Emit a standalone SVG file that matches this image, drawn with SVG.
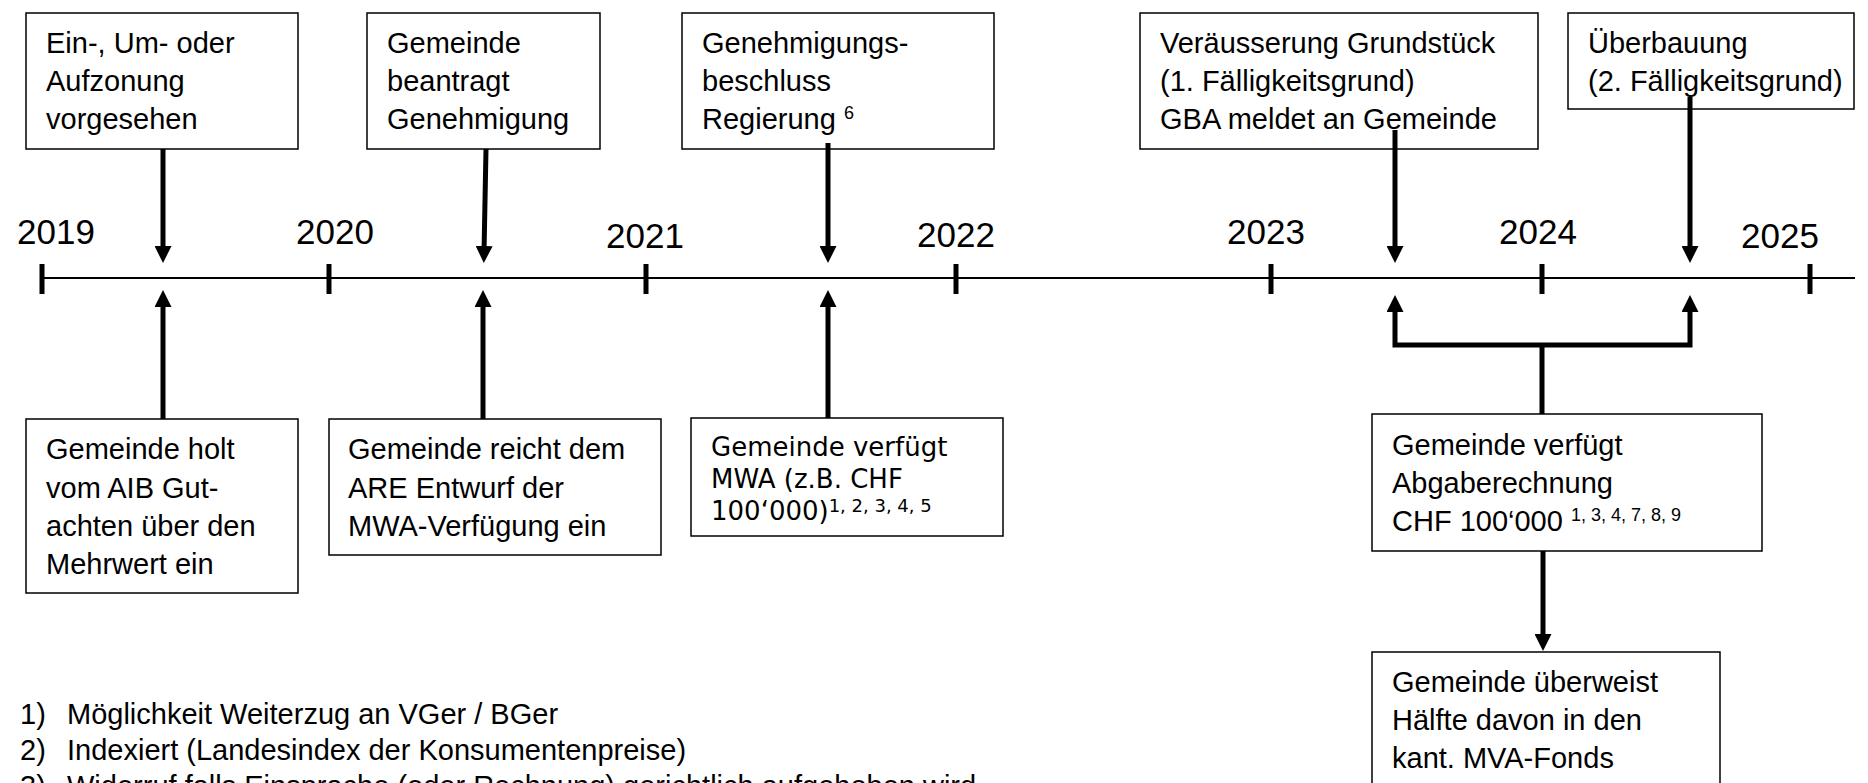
<svg xmlns="http://www.w3.org/2000/svg" width="1868" height="783" viewBox="0 0 1868 783">
<defs>
<style>
.box{fill:#fff;stroke:#000;stroke-width:1.5}
.t{font-family:"Liberation Sans",Arial,sans-serif;font-size:29px;fill:#000}
.v{font-family:"DejaVu Sans",Verdana,sans-serif;font-size:26px;fill:#000}
.yr{font-family:"Liberation Sans",Arial,sans-serif;font-size:35px;fill:#000;text-anchor:middle}
.sup{font-size:18px}
.arrow{stroke:#000;stroke-width:5;fill:none;marker-end:url(#ah)}
.bracket{stroke:#000;stroke-width:5;fill:none;stroke-linejoin:miter;marker-start:url(#ah);marker-end:url(#ah)}
.stem{stroke:#000;stroke-width:5;fill:none}
.tick{stroke:#000;stroke-width:5}
.axis{stroke:#000;stroke-width:2}
</style>
<marker id="ah" markerUnits="userSpaceOnUse" markerWidth="17" markerHeight="17" refX="7" refY="8.5" orient="auto-start-reverse" viewBox="0 0 17 17"><path d="M0,0 L17,8.5 L0,17 z" fill="#000"/></marker>
</defs>
<rect x="0" y="0" width="1868" height="783" fill="#fff"/>

<g id="timeline">
<line class="axis" x1="42" y1="278" x2="1855" y2="278"/>
<line class="tick" x1="42" y1="264" x2="42" y2="294"/>
<line class="tick" x1="329" y1="264" x2="329" y2="294"/>
<line class="tick" x1="646" y1="264" x2="646" y2="294"/>
<line class="tick" x1="956" y1="264" x2="956" y2="294"/>
<line class="tick" x1="1271" y1="264" x2="1271" y2="294"/>
<line class="tick" x1="1542" y1="264" x2="1542" y2="294"/>
<line class="tick" x1="1810" y1="264" x2="1810" y2="294"/>
<text class="yr" x="56" y="244">2019</text>
<text class="yr" x="335" y="244">2020</text>
<text class="yr" x="645" y="248">2021</text>
<text class="yr" x="956" y="247">2022</text>
<text class="yr" x="1266" y="244">2023</text>
<text class="yr" x="1538" y="244">2024</text>
<text class="yr" x="1780" y="248">2025</text>
</g>

<g id="n-zonung">
<rect class="box" x="26" y="13" width="272" height="136"/>
<text class="t" x="46" y="53">Ein-, Um- oder</text>
<text class="t" x="46" y="91">Aufzonung</text>
<text class="t" x="46" y="129">vorgesehen</text>
</g>
<g id="n-beantragt">
<rect class="box" x="367" y="13" width="233" height="136"/>
<text class="t" x="387" y="53">Gemeinde</text>
<text class="t" x="387" y="91">beantragt</text>
<text class="t" x="387" y="129">Genehmigung</text>
</g>
<g id="n-beschluss">
<rect class="box" x="682" y="13" width="312" height="136"/>
<text class="t" x="702" y="53">Genehmigungs-</text>
<text class="t" x="702" y="91">beschluss</text>
<text class="t" x="702" y="129">Regierung <tspan class="sup" dy="-10">6</tspan></text>
</g>
<g id="n-veraeusserung">
<rect class="box" x="1140" y="13" width="398" height="136"/>
<text class="t" x="1160" y="53">Veräusserung Grundstück</text>
<text class="t" x="1160" y="91">(1. Fälligkeitsgrund)</text>
<text class="t" x="1160" y="129">GBA meldet an Gemeinde</text>
</g>
<g id="n-ueberbauung">
<rect class="box" x="1568" y="13" width="286" height="96"/>
<text class="t" x="1588" y="53">Überbauung</text>
<text class="t" x="1588" y="91">(2. Fälligkeitsgrund)</text>
</g>

<g id="n-gutachten">
<rect class="box" x="26" y="419" width="272" height="174"/>
<text class="t" x="46" y="459">Gemeinde holt</text>
<text class="t" x="46" y="498">vom AIB Gut-</text>
<text class="t" x="46" y="536">achten über den</text>
<text class="t" x="46" y="574">Mehrwert ein</text>
</g>
<g id="n-entwurf">
<rect class="box" x="329" y="419" width="332" height="136"/>
<text class="t" x="348" y="459">Gemeinde reicht dem</text>
<text class="t" x="348" y="498">ARE Entwurf der</text>
<text class="t" x="348" y="536">MWA-Verfügung ein</text>
</g>
<g id="n-mwa">
<rect class="box" x="691" y="418" width="312" height="118"/>
<text class="v" x="711" y="456">Gemeinde verfügt</text>
<text class="v" x="711" y="488">MWA (z.B. CHF</text>
<text class="v" x="711" y="520">100‘000)<tspan class="sup" dy="-8">1, 2, 3, 4, 5</tspan></text>
</g>
<g id="n-abgabe">
<rect class="box" x="1372" y="414" width="390" height="137"/>
<text class="t" x="1392" y="455">Gemeinde verfügt</text>
<text class="t" x="1392" y="493">Abgaberechnung</text>
<text class="t" x="1392" y="531">CHF 100‘000 <tspan class="sup" dy="-10">1, 3, 4, 7, 8, 9</tspan></text>
</g>
<g id="n-fonds">
<rect class="box" x="1372" y="652" width="348" height="160"/>
<text class="t" x="1392" y="692">Gemeinde überweist</text>
<text class="t" x="1392" y="730">Hälfte davon in den</text>
<text class="t" x="1392" y="768">kant. MVA-Fonds</text>
</g>

<g id="connectors">
<line class="arrow" x1="163" y1="149" x2="163" y2="253"/>
<line class="arrow" x1="486" y1="149" x2="484" y2="253"/>
<line class="arrow" x1="828" y1="143" x2="828" y2="253"/>
<line class="arrow" x1="1395" y1="130" x2="1395" y2="253"/>
<line class="arrow" x1="1690" y1="97" x2="1690" y2="253"/>
<line class="arrow" x1="163" y1="419" x2="163" y2="300"/>
<line class="arrow" x1="483" y1="419" x2="483" y2="300"/>
<line class="arrow" x1="828" y1="418" x2="828" y2="300"/>
<path class="bracket" d="M1395,305 L1395,345 L1690,345 L1690,305"/>
<line class="stem" x1="1542" y1="343" x2="1542" y2="414"/>
<line class="arrow" x1="1543" y1="551" x2="1543" y2="641"/>
</g>

<g id="footnotes">
<text class="t" x="20" y="724">1)</text>
<text class="t" x="67" y="724">Möglichkeit Weiterzug an VGer / BGer</text>
<text class="t" x="20" y="760">2)</text>
<text class="t" x="67" y="760">Indexiert (Landesindex der Konsumentenpreise)</text>
<text class="t" x="20" y="796">3)</text>
<text class="t" x="67" y="796">Widerruf falls Einsprache (oder Rechnung) gerichtlich aufgehoben wird</text>
</g>
</svg>
